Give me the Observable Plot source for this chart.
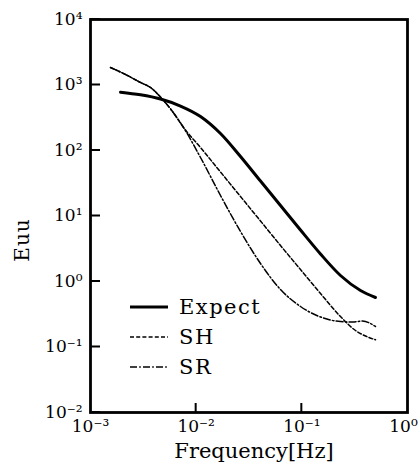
<!DOCTYPE html>
<html><head><meta charset="utf-8">
<script src="https://cdn.jsdelivr.net/npm/d3@7"></script>
<script src="https://cdn.jsdelivr.net/npm/@observablehq/plot@0.6"></script>
<style>
html,body{margin:0;padding:0;background:#fff;}
#chart svg{font-family:"DejaVu Serif",serif;display:block;}
</style></head><body><div id="chart"></div>
<script>
// Expect (thick solid)
const expectFreq = [0.001923, 0.002972, 0.004597, 0.007106, 0.01099, 0.01699, 0.02627, 0.04062, 0.06281, 0.09711, 0.1502, 0.2321, 0.3590, 0.4979];
const expectEuu  = [776.6, 708.7, 611.5, 477.9, 330.5, 181.8, 81.0, 34.2, 14.47, 6.11, 2.63, 1.235, 0.729, 0.570];
// SH (dashed)
const shFreq = [0.001546, 0.002144, 0.002972, 0.003697, 0.004771, 0.005970, 0.007589, 0.01099, 0.01699, 0.02627, 0.04062, 0.06281, 0.09711, 0.1502, 0.2321, 0.3220, 0.4005, 0.4979];
const shEuu  = [1850, 1447, 1092, 915.9, 611.5, 393.9, 224.4, 111.1, 46.97, 19.85, 8.39, 3.545, 1.525, 0.6558, 0.2921, 0.1786, 0.1472, 0.1288];
// SR (dash-dot)
const srFreq = [0.001546, 0.002144, 0.002972, 0.003697, 0.004771, 0.005970, 0.007589, 0.01099, 0.01699, 0.02627, 0.04062, 0.06281, 0.09711, 0.1502, 0.2321, 0.3016, 0.3751, 0.4979];
const srEuu  = [1850, 1447, 1092, 915.9, 611.5, 393.9, 224.4, 78.2, 20.56, 5.80, 1.883, 0.7549, 0.4153, 0.2871, 0.2450, 0.2409, 0.2494, 0.2056];

const seriesNames = ["Expect", "SH", "SR"];
const xTicks = [1e-3, 1e-2, 1e-1, 1];
const xTickLabels = ["10⁻³", "10⁻²", "10⁻¹", "10⁰"];
const xInnerTicks = [1e-2, 1e-1];
const yTicks = [1e-2, 1e-1, 1, 10, 100, 1e3, 1e4];
const yTickLabels = ["10⁻²", "10⁻¹", "10⁰", "10¹", "10²", "10³", "10⁴"];
const xLabel = "Frequency[Hz]";
const yLabel = "Euu";

const W = 420, H = 466, mL = 90, mR = 13, mT = 19, mB = 54;

const toRows = (fs, es) => fs.map((f, i) => ({f, e: es[i]}));
const series = [toRows(expectFreq, expectEuu), toRows(shFreq, shEuu), toRows(srFreq, srEuu)];
const styles = [
  {strokeWidth: 3, strokeDasharray: null},
  {strokeWidth: 1.5, strokeDasharray: "4,2.2"},
  {strokeWidth: 1.5, strokeDasharray: "7,2.2,1.6,2.2"}
];
const xLab = new Map(xTicks.map((t, i) => [t, xTickLabels[i]]));
const yLab = new Map(yTicks.map((t, i) => [t, yTickLabels[i]]));

const plot = Plot.plot({
  width: W, height: H,
  marginLeft: mL, marginRight: mR, marginTop: mT, marginBottom: mB,
  style: {fontFamily: "DejaVu Serif", fontSize: "17px", background: "white", color: "black", overflow: "visible"},
  x: {type: "log", domain: [1e-3, 1]},
  y: {type: "log", domain: [1e-2, 1e4]},
  marks: [
    Plot.axisY(yTicks, {tickSize: 0, tickPadding: 8, tickFormat: d => yLab.get(d), fontSize: 17, label: null}),
    Plot.axisX(xTicks.slice(0, 3), {tickSize: 0, tickPadding: 7, tickFormat: d => xLab.get(d), fontSize: 17, label: null}),
    Plot.axisX(xTicks.slice(3), {tickSize: 0, tickPadding: 7, dx: -4, tickFormat: d => xLab.get(d), fontSize: 17, label: null}),
    ...series.map((rows, i) => Plot.line(rows, {x: "f", y: "e", curve: "monotone-x", stroke: "black", ...styles[i]})),
    Plot.frame({strokeWidth: 2.8}),
    Plot.text([xLabel], {frameAnchor: "bottom", text: d => d, dy: 45, dx: 5, fontSize: 21, letterSpacing: "2.5px"})
  ]
});
document.getElementById("chart").appendChild(plot);

const svg = d3.select(plot);
const ys = plot.scale("y"), xs = plot.scale("x");
// inward ticks (small filled bars), positioned through Plot's own scales
const tk = svg.append("g").attr("fill", "black");
yTicks.forEach(t => {
  tk.append("rect").attr("x", mL).attr("y", ys.apply(t) - 1).attr("width", 10).attr("height", 2);
});
xInnerTicks.forEach(t => {
  tk.append("rect").attr("x", xs.apply(t) - 1).attr("y", H - mB - 9).attr("width", 2).attr("height", 9);
});
// y axis title
svg.append("text").attr("transform", "translate(22,240) rotate(-90)")
  .attr("text-anchor", "middle").attr("dy", "0.35em").attr("font-size", 20)
  .attr("letter-spacing", "1px").attr("fill", "black").text(yLabel);
// legend
const lg = svg.append("g").attr("class", "legend").attr("text-anchor", "start");
seriesNames.forEach((name, i) => {
  const y = 307 + i * 30;
  lg.append("line").attr("x1", 130).attr("x2", 168).attr("y1", y).attr("y2", y)
    .attr("stroke", "black").attr("stroke-width", i === 0 ? 3 : 1.5)
    .attr("stroke-dasharray", styles[i].strokeDasharray);
  lg.append("text").attr("x", 179).attr("y", y).attr("dy", "0.35em").attr("text-anchor", "start")
    .attr("font-size", 21).attr("letter-spacing", "1.5px").attr("fill", "black").text(name);
});
</script></body></html>
